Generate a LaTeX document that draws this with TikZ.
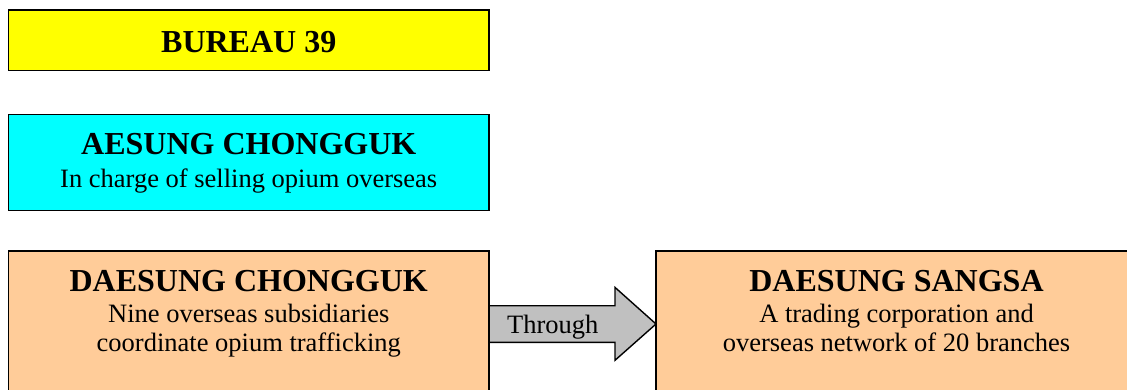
\documentclass[tikz,border=0pt]{standalone}
\usepackage{fontspec}
\setmainfont{Liberation Serif}
\definecolor{byellow}{HTML}{FFFF00}
\definecolor{bcyan}{HTML}{00FFFF}
\definecolor{bpeach}{HTML}{FFCC99}
\definecolor{bgray}{HTML}{C0C0C0}
\tikzset{
  orgbox/.style={draw=black, line width=1.7pt, inner sep=0pt, minimum width=480.5pt},
  headtxt/.style={font=\fontsize{32}{38}\selectfont\bfseries, anchor=base, inner sep=0pt},
  subtxt/.style={font=\fontsize{26.5}{29}\selectfont, anchor=base, inner sep=0pt},
  blockarrow/.style={draw=black, line width=1.4pt, fill=bgray, line join=miter}
}
\begin{document}
\begin{tikzpicture}[x=1pt,y=-1pt]
\useasboundingbox (0,0) rectangle (1127,390);
\clip (0,0) rectangle (1127,390);
\fill[white] (0,0) rectangle (1127,390);
% boxes
\node[orgbox, fill=byellow, minimum height=60.5pt] (b39) at (248.75,40.3) {};
\node[orgbox, fill=bcyan, minimum height=96pt] (aes) at (248.75,162.5) {};
% arrow end points (edges of the peach boxes)
\coordinate (dceast) at (489,324);
\coordinate (dswest) at (656,324);
\draw[blockarrow] (dceast) ++(0,-18.3) -- ++(126,0) -- ++(0,-18.3) -- (dswest)
  -- ++(-41,36.3) -- ++(0,-18) -- ++(-126,0) -- cycle;
\node[orgbox, fill=bpeach, minimum height=146.6pt] (dc) at (248.75,324) {};
\node[orgbox, fill=bpeach, minimum width=481pt, minimum height=146.6pt] (ds) at (896.5,324) {};
% texts
\node[headtxt] (t39) at (248.75,52.3) {BUREAU 39};
\node[headtxt] (taes) at (248.75,155) {AESUNG CHONGGUK};
\node[subtxt] (taes1) at (248.75,187.3) {In charge of selling opium overseas};
\node[headtxt] (tdc) at (248.75,291.7) {DAESUNG CHONGGUK};
\node[subtxt] (tdc1) at (248.75,322.7) {Nine overseas subsidiaries};
\node[subtxt] (tdc2) at (248.75,351.2) {coordinate opium trafficking};
\node[headtxt] (tds) at (896.5,291.7) {DAESUNG SANGSA};
\node[subtxt] (tds1) at (896.5,322.7) {A trading corporation and};
\node[subtxt] (tds2) at (896.5,351.2) {overseas network of 20 branches};
\node[subtxt] (thr) at (552.8,333.3) {Through};
\end{tikzpicture}
\end{document}
